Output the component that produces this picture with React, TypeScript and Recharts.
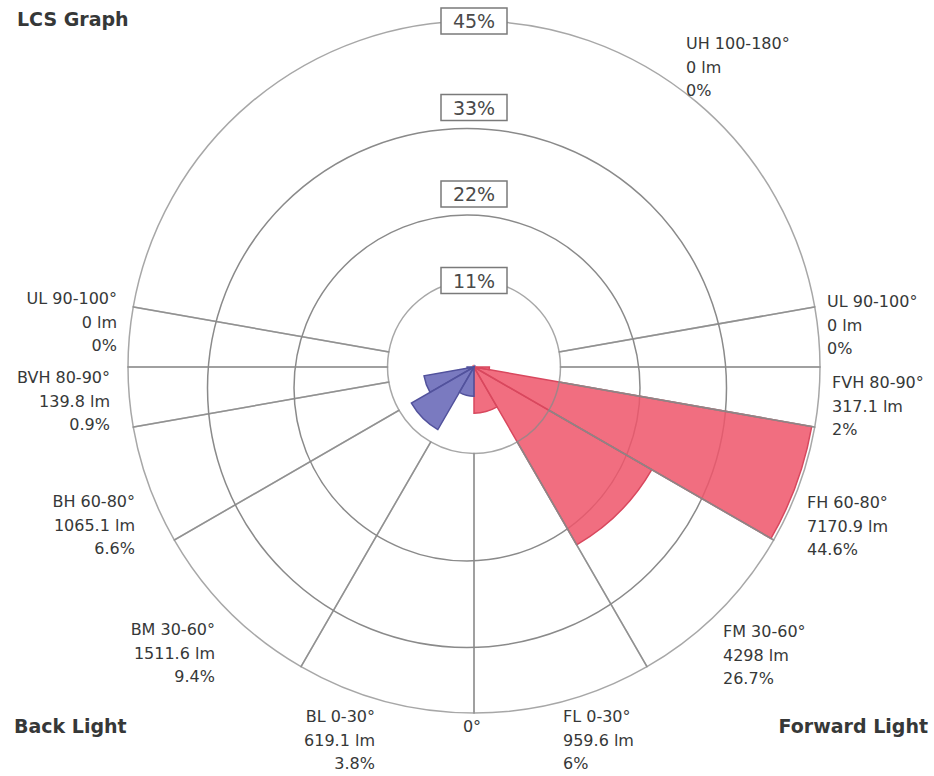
import React from "react"
import { PieChart, Pie, Cell, Sector, PolarGrid } from "recharts"

// zones, going counter-clockwise from 0° (straight down) through forward, up, and back
const ZONES = ["FL 0-30°", "FM 30-60°", "FH 60-80°", "FVH 80-90°", "UL 90-100°", "UH 100-180°", "UL 90-100°", "BVH 80-90°", "BH 60-80°", "BM 30-60°", "BL 0-30°"]
const SPANS = [30, 30, 20, 10, 10, 160, 10, 10, 20, 30, 30]
const LUMENS = ["959.6", "4298", "7170.9", "317.1", "0", "0", "0", "139.8", "1065.1", "1511.6", "619.1"]
const PERCENTS = [6, 26.7, 44.6, 2, 0, 0, 0, 0.9, 6.6, 9.4, 3.8]
const SIDES = ["F", "F", "F", "F", "F", "U", "B", "B", "B", "B", "B"]
const RING_TICKS = ["11%", "22%", "33%", "45%"]
const MAX_PCT = 45

const W = 934
const H = 776
const CX = 474
const CY = 367
const R = 346

const FILL: Record<string, string> = { F: "#ef566b", B: "#6464b6", U: "#ef566b" }
const EDGE: Record<string, string> = { F: "#d8485e", B: "#52529c", U: "#d8485e" }

// label anchor spots, one per zone
const LABEL_POS = [
  { x: 563, y: 722, anchor: "start" },
  { x: 723, y: 637, anchor: "start" },
  { x: 807, y: 508, anchor: "start" },
  { x: 832, y: 388, anchor: "start" },
  { x: 827, y: 307, anchor: "start" },
  { x: 686, y: 49, anchor: "start" },
  { x: 117, y: 304, anchor: "end" },
  { x: 110, y: 383, anchor: "end" },
  { x: 135, y: 507, anchor: "end" },
  { x: 215, y: 635, anchor: "end" },
  { x: 375, y: 722, anchor: "end" },
]

const zones = ZONES.map((name, i) => ({
  name,
  span: SPANS[i],
  pct: PERCENTS[i],
  side: SIDES[i],
}))

const FONT = "'DejaVu Sans', Verdana, sans-serif"
const INK = "#363838"
const GRID = "#8a8a8a"

const Wedge = (props: any) => {
  const pct = props.payload?.pct ?? props.pct ?? 0
  if (!pct) return <g />
  const side = props.payload?.side ?? props.side
  return (
    <Sector
      cx={props.cx}
      cy={props.cy}
      innerRadius={0}
      outerRadius={(props.outerRadius * pct) / MAX_PCT}
      startAngle={props.startAngle}
      endAngle={props.endAngle}
      fill={FILL[side]}
      fillOpacity={0.86}
      stroke={EDGE[side]}
      strokeWidth={1.5}
    />
  )
}

function ZoneLabels() {
  return (
    <g fontFamily={FONT} fontSize={16} fill={INK}>
      {zones.map((z, i) => {
        const p = LABEL_POS[i]
        const lines = [z.name, `${LUMENS[i]} lm`, `${PERCENTS[i]}%`]
        return (
          <text key={i} x={p.x} y={p.y} textAnchor={p.anchor as any}>
            {lines.map((t, j) => (
              <tspan key={j} x={p.x} dy={j === 0 ? 0 : 23.5}>
                {t}
              </tspan>
            ))}
          </text>
        )
      })}
    </g>
  )
}

function RingLabels() {
  return (
    <g fontFamily={FONT}>
      {RING_TICKS.map((t, i) => {
        const y = CY - (R * (i + 1)) / RING_TICKS.length
        return (
          <g key={t}>
            <rect x={CX - 33} y={y - 13} width={66} height={26} fill="#fff" stroke="#7a7a7a" strokeWidth={1.5} />
            <text x={CX} y={y + 7} textAnchor="middle" fontSize={19} fill="#4a4a4a">
              {t}
            </text>
          </g>
        )
      })}
    </g>
  )
}

export default function App() {
  return (
    <div style={{ position: "absolute", left: 0, top: 0, width: W, height: H, background: "#fff" }}>
      <PieChart width={W} height={H} margin={{ top: 0, right: 0, bottom: 0, left: 0 }}>
        <PolarGrid
          cx={CX}
          cy={CY}
          innerRadius={0}
          outerRadius={R}
          gridType="circle"
          radialLines={false}
          polarAngles={[]}
          polarRadius={[R / 2, (3 * R) / 4]}
          stroke={GRID}
          strokeWidth={1.5}
        />
        <Pie
          data={zones}
          dataKey="span"
          nameKey="name"
          cx={CX}
          cy={CY}
          innerRadius={0}
          outerRadius={R}
          startAngle={-90}
          endAngle={270}
          paddingAngle={0}
          shape={Wedge}
          inactiveShape={Wedge}
          activeShape={Wedge}
          stroke="none"
          isAnimationActive={false}
        >
          {zones.map((z, i) => (
            <Cell key={i} fill={FILL[z.side]} />
          ))}
        </Pie>
        <Pie
          data={zones}
          dataKey="span"
          nameKey="name"
          cx={CX}
          cy={CY}
          innerRadius={R / 4}
          outerRadius={R}
          startAngle={-90}
          endAngle={270}
          paddingAngle={0}
          fill="none"
          stroke={GRID}
          strokeWidth={1.5}
          strokeOpacity={0.75}
          isAnimationActive={false}
        >
          {zones.map((_, i) => (
            <Cell key={i} fill="none" stroke={GRID} />
          ))}
        </Pie>
      </PieChart>
      <svg width={W} height={H} style={{ position: "absolute", left: 0, top: 0, pointerEvents: "none" }}>
        <RingLabels />
        <ZoneLabels />
        <g fontFamily={FONT} fill={INK}>
          <text x={17} y={26} fontSize={19} fontWeight="bold">LCS Graph</text>
          <text x={14} y={733} fontSize={19} fontWeight="bold">Back Light</text>
          <text x={928} y={733} fontSize={19} fontWeight="bold" textAnchor="end">Forward Light</text>
          <text x={472} y={732} fontSize={16} textAnchor="middle">0°</text>
        </g>
      </svg>
    </div>
  )
}
